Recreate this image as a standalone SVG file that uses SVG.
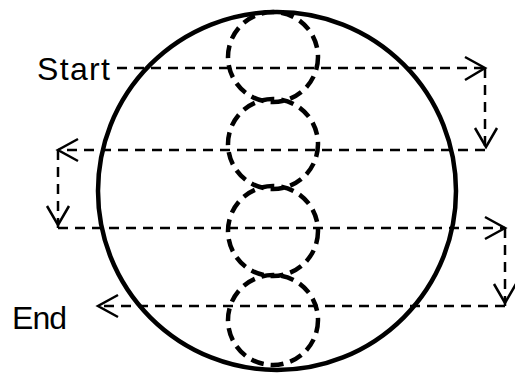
<svg xmlns="http://www.w3.org/2000/svg" width="515" height="376" viewBox="0 0 515 376">
<style>
.big{fill:none;stroke:#000;stroke-width:4.5}
.cell{fill:none;stroke:#000;stroke-width:4.5;stroke-dasharray:13 7}
.path{fill:none;stroke:#000;stroke-width:2.5;stroke-dasharray:10 7}
.head{fill:none;stroke:#000;stroke-width:2.5}
.lbl{font-family:"Liberation Sans",Arial,sans-serif;font-size:32px;fill:#000}
</style>
<rect width="515" height="376" fill="#fff"/>
<g id="outer"><circle class="big" cx="277" cy="191" r="179"/></g>
<g id="cell1"><circle class="cell" cx="273" cy="57" r="45"/></g>
<g id="cell2"><circle class="cell" cx="273" cy="144" r="45"/></g>
<g id="cell3"><circle class="cell" cx="273" cy="231" r="45"/></g>
<g id="cell4"><circle class="cell" cx="273" cy="320" r="45"/></g>
<g id="start"><text class="lbl" x="37" y="80" textLength="73">Start</text></g>
<g id="end"><text class="lbl" x="12" y="329" textLength="55">End</text></g>
<g id="connectors">
<path class="path" d="M117 68 H485"/>
<path class="head" d="M465 57 L485 68 L465 80"/>
<path class="path" d="M485 68 V150"/>
<path class="head" d="M475 128 L486 147 L497 128"/>
<path class="path" d="M485 150 H58"/>
<path class="head" d="M78 139 L58 150 L78 161"/>
<path class="path" d="M58 150 V228"/>
<path class="head" d="M47 206 L58 225 L69 206"/>
<path class="path" d="M58 228 H505"/>
<path class="head" d="M485 217 L505 228 L485 239"/>
<path class="path" d="M505 228 V306"/>
<path class="head" d="M494 284 L505 303 L516 284"/>
<path class="path" d="M505 306 H98"/>
<path class="head" d="M118 295 L98 306 L118 317"/>
</g>
</svg>
